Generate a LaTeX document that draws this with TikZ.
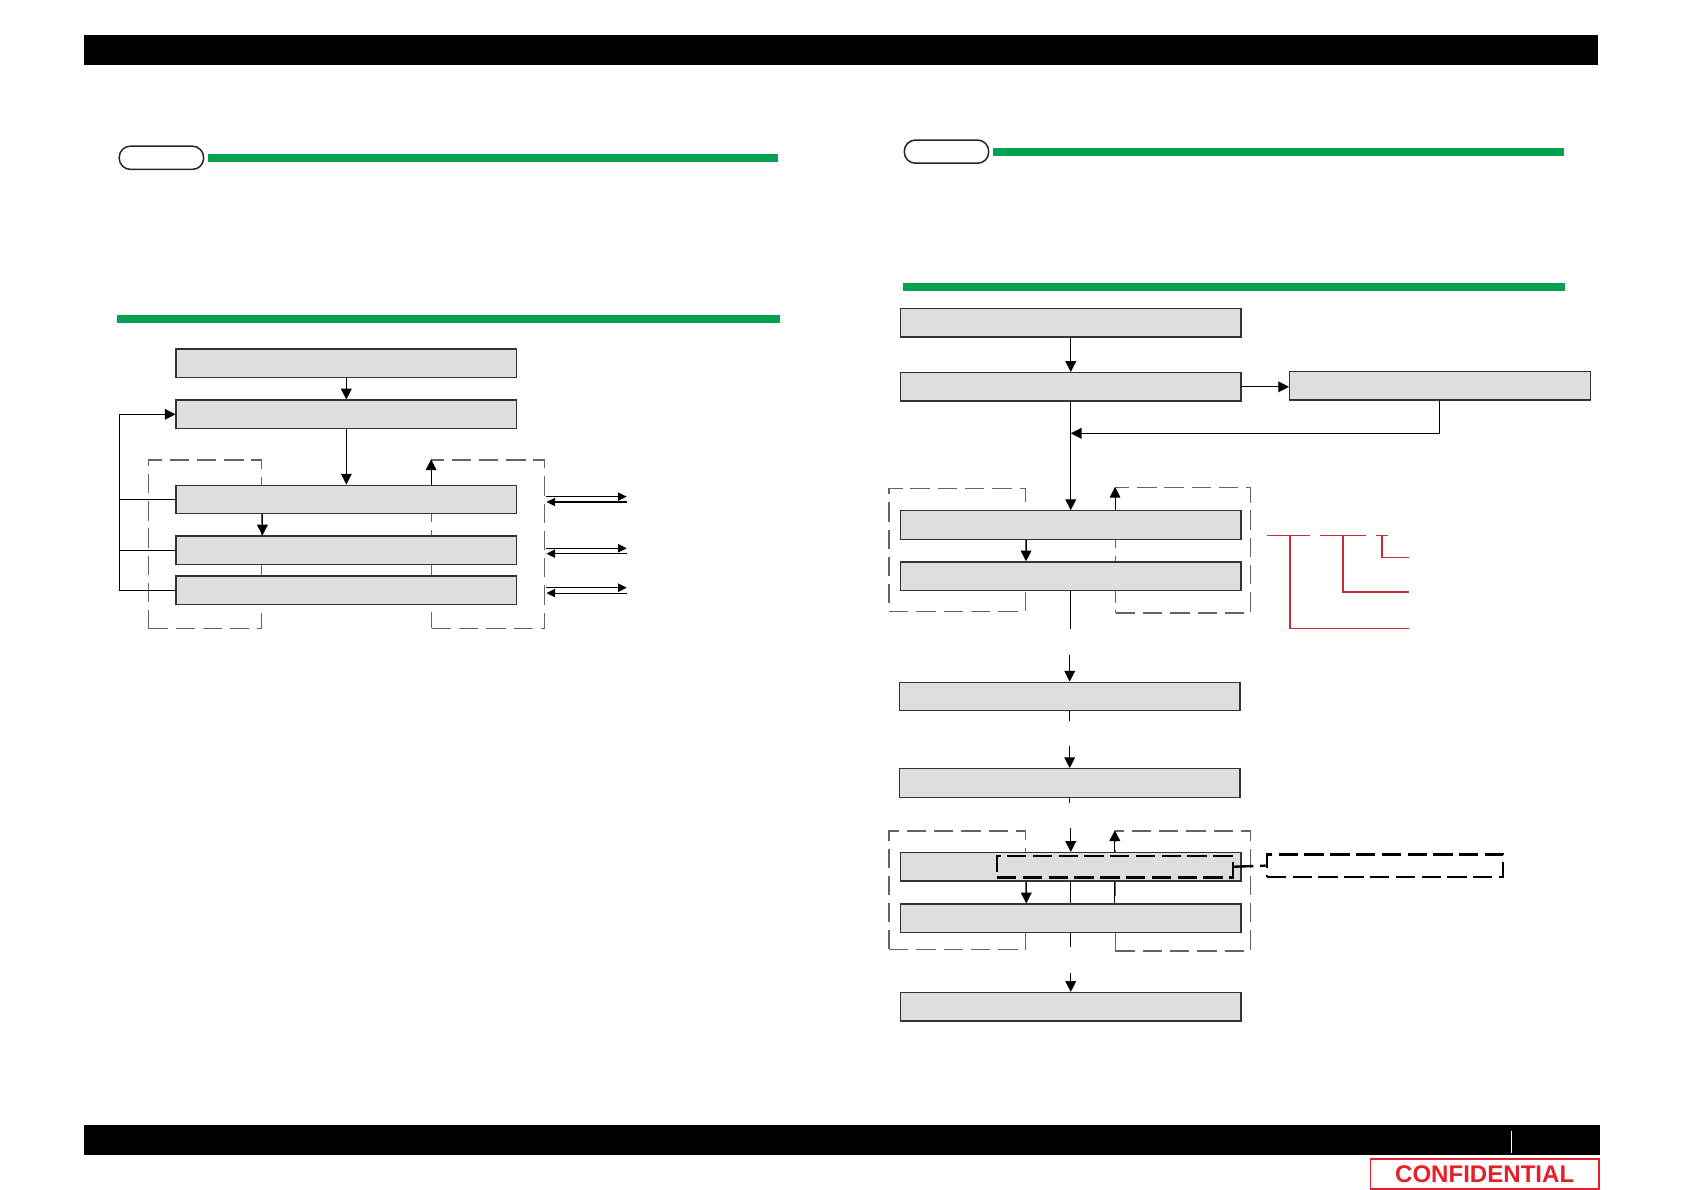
\documentclass[tikz,border=0pt]{standalone}
\usepackage{fontspec}
\setsansfont{Liberation Sans}
\usetikzlibrary{arrows.meta}

\definecolor{boxgray}{RGB}{222,222,222}
\definecolor{rulegreen}{RGB}{0,161,80}
\definecolor{grpgray}{RGB}{100,100,100}
\definecolor{markred}{RGB}{200,45,55}
\definecolor{stampred}{RGB}{232,30,40}

\begin{document}
\begin{tikzpicture}[x=0.5pt, y=-0.5pt, >={Triangle[length=5pt, width=5pt]},
    box/.style={draw=black!80, fill=boxgray, line width=0.6pt, inner sep=0pt,
        minimum width=158.5pt, minimum height=13.25pt},
    grp/.style={draw=grpgray, line width=0.6pt, dash pattern=on 9pt off 3.7pt, inner sep=0pt},
    tag/.style={draw=black!85, line width=0.7pt, rounded corners=5.2pt, inner sep=0pt,
        minimum width=39.3pt, minimum height=10.8pt},
    hint/.style={draw=black, line width=1.1pt, dash pattern=on 9pt off 3pt, inner sep=0pt,
        minimum width=110pt},
    flow/.style={line width=0.5pt},
    io/.style={line width=0.5pt, -{Triangle[length=4pt, width=3.8pt]}}]

    \useasboundingbox (0,0) rectangle (1568,1108);

    \fill (78,33) rectangle (1488,60.5);
    \fill (78,1047.5) rectangle (1490,1075.4);
    \draw[white, line width=0.5pt] (1407,1052.8) -- (1407,1073.3);
    \node[draw=stampred, line width=0.8pt, inner sep=0pt, minimum width=106.2pt,
        minimum height=13.7pt, text=stampred, font=\sffamily\bfseries\fontsize{11.2}{12}\selectfont]
        (stamp) at (1382.4,1093.1) {CONFIDENTIAL};

    \begin{scope}
        \node[tag] (tagL) at (150.3,146.9) {};
        \fill[rulegreen] (193.3,143.4) rectangle (724.4,150.5);
        \fill[rulegreen] (109,293.3) rectangle (726.3,300.4);

        \node[grp, minimum width=52.85pt, minimum height=78.35pt] (grpL) at (190.9,506.7) {};
        \node[grp, minimum width=52.5pt, minimum height=78.35pt] (grpR) at (454.5,506.7) {};

        \node[box] (lA) at (322.5,338.2) {};
        \node[box] (lB) at (322.5,385.8) {};
        \node[box] (lC) at (322.5,465) {};
        \node[box] (lD) at (322.5,512.4) {};
        \node[box] (lE) at (322.5,549.5) {};

        \coordinate (back) at (111.4,385.8);
        \draw[flow, ->] (lA) -- (lB);
        \draw[flow, ->] (lB) -- (lC);
        \draw[flow, ->] (grpL.east |- lC.south) -- (grpL.east |- lD.north);
        \draw[flow, ->] (grpR.west |- lC.north) -- (grpR.north west);
        \draw[flow, ->] (lE.west) -| (back) -- (lB.west);
        \draw[flow] (lC.west) -- (lC.west -| back);
        \draw[flow] (lD.west) -- (lD.west -| back);

        \foreach \i/\y in {1/462.4, 2/510.5, 3/547.2} {
            \coordinate (txL\i) at (508.8,\y);
            \coordinate (txR\i) at (583.6,\y);
            \draw[io] (txL\i) -- (txR\i);
            \draw[io] ([yshift=-2.5pt]txR\i) -- ([yshift=-2.5pt]txL\i);
        }
    \end{scope}

    \begin{scope}
        \node[tag] (tagR) at (881.3,141.2) {};
        \fill[rulegreen] (924.9,137.8) rectangle (1456.3,145);
        \fill[rulegreen] (840.8,263.5) rectangle (1457,270.7);

        \node[grp, minimum width=63.45pt, minimum height=57.15pt] (grpA) at (891.3,511.9) {};
        \node[grp, minimum width=62.85pt, minimum height=58.4pt] (grpB) at (1101.7,512.4) {};
        \node[grp, minimum width=63.6pt, minimum height=55.1pt] (grpC) at (891.4,828.8) {};
        \node[grp, minimum width=62.9pt, minimum height=55.9pt] (grpD) at (1101.5,829.6) {};

        \node[box] (rA) at (997,300.5) {};
        \node[box] (rB) at (997,360.2) {};
        \node[box, minimum width=139.9pt] (rSide) at (1340.7,359.2) {};
        \node[box] (rC) at (997,488.8) {};
        \node[box] (rD) at (997,536.5) {};
        \node[box] (rE) at (996,648.5) {};
        \node[box] (rF) at (996,729) {};
        \node[box] (rG) at (997,807.1) {};
        \node[box] (rH) at (997,855) {};
        \node[box] (rI) at (997,937.4) {};

        \node[hint, minimum width=109.8pt, minimum height=10pt] (rHint) at (1038.2,807) {};
        \node[hint, minimum height=10.5pt] (rNote) at (1289.6,806) {};

        \coordinate (turn) at (1340.7,403.5);
        \coordinate (stubD) at (996,586);
        \coordinate (feedE) at (996,610);
        \coordinate (stubE) at (996,671);
        \coordinate (feedF) at (996,694.6);
        \coordinate (stubF) at (996,747.4);
        \coordinate (feedG) at (996,771.3);
        \coordinate (stubH) at (996,882);
        \coordinate (feedI) at (996,906.3);

        \draw[flow, ->] (rA) -- (rB);
        \draw[flow, ->] (rB.east) -- (rB.east -| rSide.west);
        \draw[flow, ->] (rSide.south) -- (turn) -- (turn -| rB.south);
        \draw[flow, ->] (rB) -- (rC);
        \draw[flow, ->] (grpA.east |- rC.south) -- (grpA.east |- rD.north);
        \draw[flow, ->] (grpB.west |- rC.north) -- (grpB.north west);
        \draw[flow] (rD.south) -- (rD.south |- stubD);
        \draw[flow, ->] (rE.north |- feedE) -- (rE.north);
        \draw[flow] (rE.south) -- (rE.south |- stubE);
        \draw[flow, ->] (rF.north |- feedF) -- (rF.north);
        \draw[flow] (rF.south) -- (rF.south |- stubF);
        \draw[flow, ->] (rG.north |- feedG) -- (rG.north);
        \draw[flow] (rG) -- (rH);
        \draw[flow, ->] (grpC.east |- rG.south) -- (grpC.east |- rH.north);
        \draw[flow, ->] (grpD.west |- rG.north) -- (grpD.north west);
        \draw[flow] (grpD.west |- rG.south) -- (grpD.west |- rH.north);
        \draw[flow] (rH.south) -- (rH.south |- stubH);
        \draw[flow, ->] (rI.north |- feedI) -- (rI.north);
        \draw[hint] (rHint.east) -- (rNote.west);

        \draw[markred, line width=0.7pt] (1180,498.5) -- (1220,498.5) (1229,498.5) -- (1272,498.5)
            (1281,498.5) -- (1292,498.5);
        \draw[markred, line width=0.7pt] (1201,498.5) |- (1311.5,585) (1250.5,498.5) |- (1311.5,551)
            (1287,498.5) |- (1311.5,519);
    \end{scope}
\end{tikzpicture}
\end{document}
